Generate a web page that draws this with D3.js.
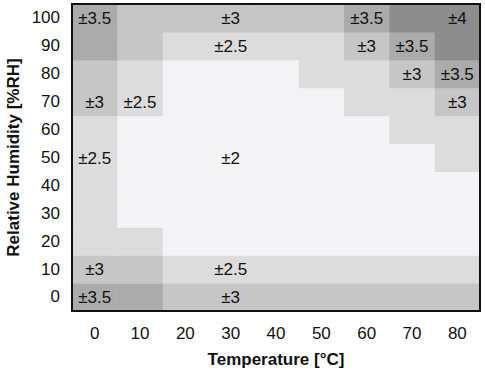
<!DOCTYPE html>
<html>
<head>
<meta charset="utf-8">
<script src="https://cdn.jsdelivr.net/npm/d3@7"></script>
<style>
  body { margin: 0; background: #fff; }
  text { font-family: "Liberation Sans", Arial, sans-serif; fill: #111; }
</style>
</head>
<body>
<svg></svg>
<script>
var width = 485,
    height = 370,
    margin = { top: 4, right: 5, bottom: 59, left: 72 };

var temps = [0, 10, 20, 30, 40, 50, 60, 70, 80];
var humidities = [0, 10, 20, 30, 40, 50, 60, 70, 80, 90, 100];

// tolerance (±%RH) per humidity row, one value per temperature column
var tol0   = [3.5, 3.5, 3, 3, 3, 3, 3, 3, 3];
var tol10  = [3, 3, 2.5, 2.5, 2.5, 2.5, 2.5, 2.5, 2.5];
var tol20  = [2.5, 2.5, 2, 2, 2, 2, 2, 2, 2];
var tol30  = [2.5, 2, 2, 2, 2, 2, 2, 2, 2];
var tol40  = [2.5, 2, 2, 2, 2, 2, 2, 2, 2];
var tol50  = [2.5, 2, 2, 2, 2, 2, 2, 2, 2.5];
var tol60  = [2.5, 2, 2, 2, 2, 2, 2, 2.5, 2.5];
var tol70  = [3, 2.5, 2, 2, 2, 2, 2.5, 2.5, 3];
var tol80  = [3, 2.5, 2, 2, 2, 2.5, 2.5, 3, 3.5];
var tol90  = [3.5, 3, 2.5, 2.5, 2.5, 2.5, 3, 3.5, 4];
var tol100 = [3.5, 3, 3, 3, 3, 3, 3.5, 4, 4];
var tolerance = [tol0, tol10, tol20, tol30, tol40, tol50, tol60, tol70, tol80, tol90, tol100];

// labelled cells: [temperature, humidity]
var labelCells = [
    [0, 100], [30, 100], [60, 100], [80, 100],
    [30, 90], [60, 90], [70, 90],
    [70, 80], [80, 80],
    [0, 70], [10, 70], [80, 70],
    [0, 50], [30, 50],
    [0, 10], [30, 10],
    [0, 0], [30, 0]
];

var svg = d3.select("svg")
    .attr("width", width)
    .attr("height", height);

var x = d3.scaleBand()
    .domain(temps)
    .range([margin.left, width - margin.right]);

var y = d3.scaleBand()
    .domain(humidities)
    .range([height - margin.bottom, margin.top]);

var color = d3.scaleOrdinal()
    .domain([2, 2.5, 3, 3.5, 4])
    .range(["#f3f3f5", "#dcdcdd", "#c6c6c7", "#ababab", "#8d8d8d"]);

var cells = [];
humidities.forEach((h, i) => {
    temps.forEach((t, j) => {
        cells.push({ t: t, h: h, v: tolerance[i][j] });
    });
});

svg.append("g")
    .selectAll("rect")
    .data(cells)
    .enter().append("rect")
    .attr("x", d => x(d.t))
    .attr("y", d => y(d.h))
    .attr("width", x.bandwidth() + 0.5)
    .attr("height", y.bandwidth() + 0.5)
    .attr("fill", d => color(d.v));

svg.append("g")
    .selectAll("text")
    .data(labelCells)
    .enter().append("text")
    .attr("x", d => x(d[0]) + x.bandwidth() / 2)
    .attr("y", d => y(d[1]) + y.bandwidth() / 2)
    .attr("dy", "0.36em")
    .attr("text-anchor", "middle")
    .style("font-size", "17px")
    .text(d => "±" + tolerance[humidities.indexOf(d[1])][temps.indexOf(d[0])]);

// plot frame
svg.append("rect")
    .attr("x", margin.left)
    .attr("y", margin.top)
    .attr("width", width - margin.left - margin.right)
    .attr("height", height - margin.top - margin.bottom)
    .attr("fill", "none")
    .attr("stroke", "#111")
    .attr("stroke-width", 2);

var xAxis = svg.append("g")
    .attr("transform", "translate(0," + (height - margin.bottom) + ")")
    .call(d3.axisBottom(x).tickSize(0).tickPadding(16));

var yAxis = svg.append("g")
    .attr("transform", "translate(" + margin.left + ",0)")
    .call(d3.axisLeft(y).tickSize(0).tickPadding(12));

[xAxis, yAxis].forEach(a => {
    a.select(".domain").remove();
    a.selectAll("text")
        .style("font-size", "17px")
        .style("font-family", "'Liberation Sans', Arial, sans-serif")
        .attr("fill", "#111");
});

svg.append("text")
    .attr("x", (margin.left + width - margin.right) / 2)
    .attr("y", height - 5)
    .attr("text-anchor", "middle")
    .style("font-size", "17px")
    .style("font-weight", "bold")
    .text("Temperature [°C]");

svg.append("text")
    .attr("transform", "translate(19," + (margin.top + height - margin.bottom) / 2 + ") rotate(-90)")
    .attr("text-anchor", "middle")
    .style("font-size", "17px")
    .style("font-weight", "bold")
    .text("Relative Humidity [%RH]");
</script>
</body>
</html>
